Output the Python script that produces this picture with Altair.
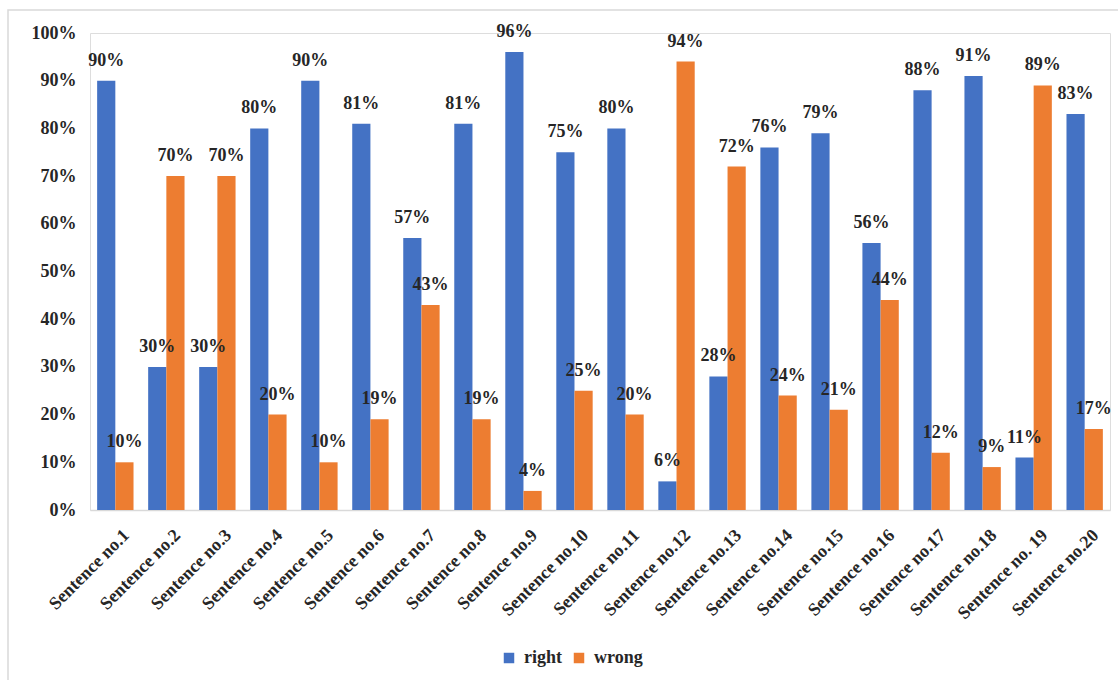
import altair as alt
import pandas as pd

sentences = ["Sentence no.1", "Sentence no.2", "Sentence no.3", "Sentence no.4", "Sentence no.5",
             "Sentence no.6", "Sentence no.7", "Sentence no.8", "Sentence no.9", "Sentence no.10",
             "Sentence no.11", "Sentence no.12", "Sentence no.13", "Sentence no.14", "Sentence no.15",
             "Sentence no.16", "Sentence no.17", "Sentence no.18", "Sentence no. 19", "Sentence no.20"]
right = [90, 30, 30, 80, 90, 81, 57, 81, 96, 75, 80, 6, 28, 76, 79, 56, 88, 91, 11, 83]
wrong = [10, 70, 70, 20, 10, 19, 43, 19, 4, 25, 20, 94, 72, 24, 21, 44, 12, 9, 89, 17]
series = ["right", "wrong"]
colors = ["#4472C4", "#ED7D31"]

rows = []
for s, r, w in zip(sentences, right, wrong):
    rows.append({"sentence": s, "answer": "right", "value": r / 100})
    rows.append({"sentence": s, "answer": "wrong", "value": w / 100})
df = pd.DataFrame(rows)

FONT = "Liberation Serif"
TXT = "#262626"
FS = 18

xenc = alt.X("sentence:N", sort=sentences, title=None,
             scale=alt.Scale(paddingInner=0.287, paddingOuter=0.14),
             axis=alt.Axis(labelAngle=-45, labelAlign="right", labelBaseline="top",
                           labelFont=FONT, labelFontWeight="bold", labelFontSize=FS,
                           labelColor=TXT, ticks=False, domainColor="#d9d9d9",
                           domainWidth=1.5, labelPadding=16, labelOffset=5))
yenc = alt.Y("value:Q", title=None,
             scale=alt.Scale(domain=[0, 1]),
             axis=alt.Axis(format=".0%", values=[i / 10 for i in range(11)],
                           grid=False, domain=False, ticks=False, labelPadding=14,
                           labelFont=FONT, labelFontWeight="bold", labelFontSize=FS,
                           labelColor=TXT))
color = alt.Color("answer:N", sort=series, title=None,
                  scale=alt.Scale(domain=series, range=colors),
                  legend=alt.Legend(orient="none", legendX=410, legendY=616,
                                    direction="horizontal", symbolType="square",
                                    symbolSize=110, symbolStrokeWidth=0,
                                    labelFont=FONT, labelFontWeight="bold",
                                    labelFontSize=FS, labelColor=TXT,
                                    columnPadding=8, labelOffset=6))

base = alt.Chart(df).encode(x=xenc, xOffset=alt.XOffset("answer:N", sort=series))

bars = base.mark_bar().encode(y=yenc, color=color)
labels = base.mark_text(font=FONT, fontWeight="bold", fontSize=FS, color=TXT,
                        baseline="bottom", dy=-11).encode(
    y=alt.Y("value:Q"), text=alt.Text("value:Q", format=".0%"))

frame = alt.Chart(pd.DataFrame({"k": [0]})).mark_rect(
    fill=None, stroke="#d9d9d9", strokeWidth=1.5, clip=False).encode(
    x=alt.value(-82), x2=alt.value(1040), y=alt.value(-23), y2=alt.value(660))

chart = alt.layer(frame, bars, labels).properties(
    width=1020, height=477,
    padding={"left": 90, "top": 33, "right": 8, "bottom": 170},
    autosize=alt.AutoSizeParams(type="none"),
).configure_view(stroke=None).configure(background="white")

chart.save("out.html", embed_options={"renderer": "svg", "actions": False})
